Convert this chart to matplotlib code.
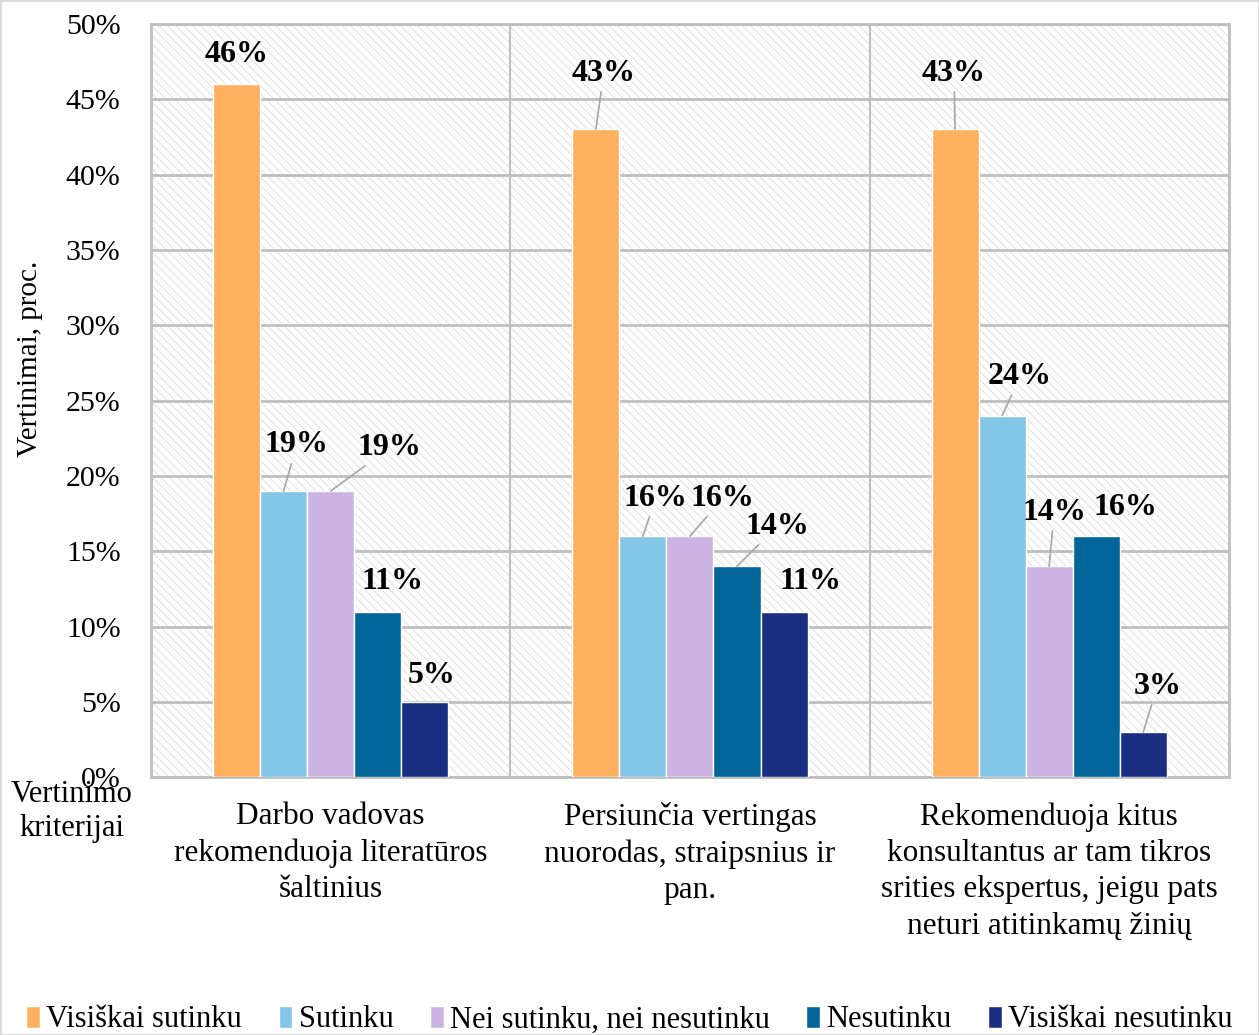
import numpy as np
import matplotlib
matplotlib.use("Agg")
import matplotlib.pyplot as plt
from matplotlib.patches import Rectangle

plt.rcParams['font.family'] = ['Liberation Serif', 'DejaVu Serif']
plt.rcParams['hatch.linewidth'] = 0.6

categories = ["Darbo vadovas\nrekomenduoja literatūros\nšaltinius",
              "Persiunčia vertingas\nnuorodas, straipsnius ir\npan.",
              "Rekomenduoja kitus\nkonsultantus ar tam tikros\nsrities ekspertus, jeigu pats\nneturi atitinkamų žinių"]
series = ["Visiškai sutinku", "Sutinku", "Nei sutinku, nei nesutinku", "Nesutinku", "Visiškai nesutinku"]
values = [
    [46, 43, 43],
    [19, 16, 24],
    [19, 16, 14],
    [11, 14, 16],
    [5, 11, 3],
]
yticks = [0, 5, 10, 15, 20, 25, 30, 35, 40, 45, 50]
colors = ['#FDB05E', '#84C6E8', '#CBB4E3', '#006599', '#1A2F82']

# label offsets in pixels from the top of each bar, and whether a leader line is drawn
label_off = [
    [(0, 30), (8, 56), (-1, 56)],
    [(13, 46), (13, 38), (18, 39)],
    [(59, 43), (33, 38), (5, 54)],
    [(15, 30), (40, 40), (29, 29)],
    [(7, 26), (26, 30), (14, 46)],
]
leader = [
    [False, True, True],
    [True, True, True],
    [True, True, True],
    [False, True, False],
    [False, False, True],
]

fig = plt.figure(figsize=(12.59, 10.35), dpi=100)
ax = fig.add_axes([0.12, 0.249, 0.856, 0.728])

x = np.arange(len(categories))
w = 0.131
n = len(series)

ax.set_xlim(-0.5, len(categories) - 0.5)
ax.set_ylim(0, 50)

# hatched background
bg = Rectangle((0, 0), 1, 1, transform=ax.transAxes, facecolor='white',
               edgecolor='#DADADA', hatch='\\\\\\\\', linewidth=0, zorder=0)
ax.add_patch(bg)

for i in range(n):
    pos = x + (i - (n - 1) / 2) * w
    ax.bar(pos, values[i], width=w, color=colors[i], edgecolor='white',
           linewidth=1, label=series[i], zorder=3)
    for j in range(len(categories)):
        dx, dy = label_off[i][j]
        ap = None
        if leader[i][j]:
            ap = dict(arrowstyle='-', color='#A6A6A6', lw=1.2, shrinkA=1, shrinkB=0)
        ax.annotate(f"{values[i][j]}%", xy=(pos[j], values[i][j]),
                    xytext=(dx, dy), textcoords='offset pixels',
                    ha='center', va='center', fontsize=23, fontweight='bold',
                    arrowprops=ap, zorder=5)

ax.set_yticks(yticks)
ax.set_yticklabels([f"{t}%" for t in yticks], fontsize=21.5)
ax.set_xticks(x)
ax.set_xticklabels(categories, fontsize=22.5, linespacing=1.33)
ax.tick_params(axis='y', length=0, pad=22)
ax.tick_params(axis='x', length=0, pad=18)
ax.set_ylabel("Vertinimai, proc.", fontsize=21)
ax.yaxis.set_label_coords(-0.1, 0.555)

ax.grid(axis='y', color='#BFBFBF', linewidth=2, zorder=1)
for b in [0.5, 1.5]:
    ax.axvline(b, color='#BFBFBF', linewidth=1.5, zorder=1)
for s in ax.spines.values():
    s.set_color('#BFBFBF')
    s.set_linewidth(2)

fig.text(0.057, 0.216, "Vertinimo\nkriterijai", ha='center', va='center',
         fontsize=22, linespacing=1.2)

leg = fig.legend(loc='lower center', bbox_to_anchor=(0.5, -0.026), ncol=5,
                 frameon=False, fontsize=22, handlelength=0.45, handleheight=0.75,
                 handletextpad=0.2, columnspacing=1.2)

fig.patches.append(Rectangle((0, 0), 1, 1, transform=fig.transFigure,
                             fill=False, edgecolor='#D9D9D9', linewidth=2))

fig.savefig("out.png", dpi=100)
